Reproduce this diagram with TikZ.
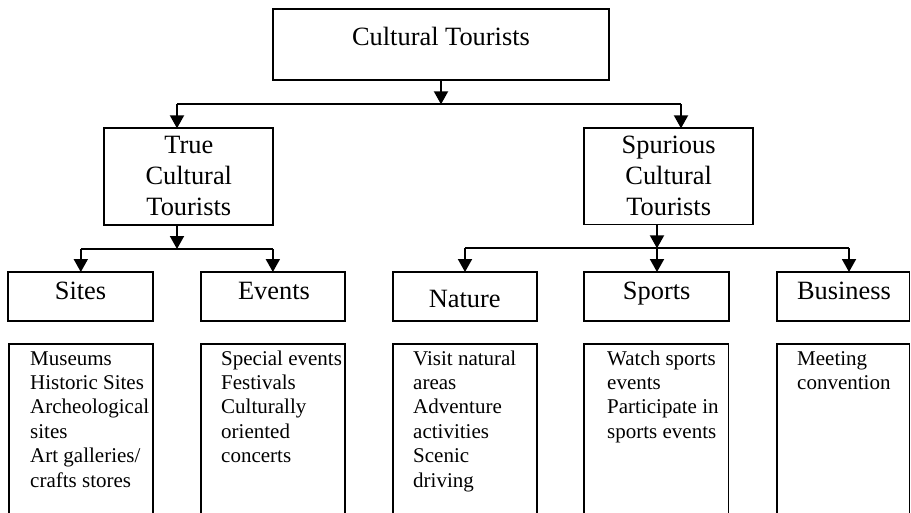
\documentclass[tikz,border=0pt]{standalone}
\usepackage{fontspec}
\setmainfont{Liberation Serif}
\usetikzlibrary{arrows.meta}
\begin{document}
\begin{tikzpicture}[x=1pt,y=-1pt,
  box/.style={draw,line width=1.9pt,inner sep=0pt,outer sep=0pt},
  head/.style={inner sep=0pt,font=\fontsize{26.4}{31}\selectfont},
  headml/.style={inner sep=0pt,align=center,anchor=north,font=\fontsize{26.4}{31}\selectfont},
  list/.style={inner sep=0pt,align=left,anchor=north west,font=\fontsize{21}{24.4}\selectfont},
  link/.style={line width=1.9pt},
  arr/.style={line width=1.9pt,-{Triangle[width=14pt,length=13pt]}}]
\useasboundingbox (0,0) rectangle (911,512);

% boxes
\node[box,minimum width=336.6pt,minimum height=71.3pt] (top) at (441,44.65) {};
\node[box,minimum width=169pt,minimum height=96.7pt] (true) at (188.8,176.65) {};
\node[box,minimum width=169.3pt,minimum height=96.2pt] (spur) at (668.65,176.4) {};
\node[box,minimum width=145pt,minimum height=49pt] (sites) at (80.8,296.5) {};
\node[box,minimum width=144.3pt,minimum height=49pt] (events) at (272.85,296.5) {};
\node[box,minimum width=143.4pt,minimum height=49pt] (nature) at (465,296.5) {};
\node[box,minimum width=144.4pt,minimum height=49pt] (sports) at (656.5,296.5) {};
\node[box,minimum width=132.8pt,minimum height=49pt] (business) at (843.1,296.5) {};
\node[box,minimum width=143.7pt,minimum height=170pt] (sitesL) at (80.85,429) {};
\node[box,minimum width=144pt,minimum height=170pt] (eventsL) at (273,429) {};
\node[box,minimum width=143.4pt,minimum height=170pt] (natureL) at (465,429) {};
\node[box,minimum width=144.2pt,minimum height=170pt] (sportsL) at (656.4,429) {};
\node[box,minimum width=132.8pt,minimum height=170pt] (businessL) at (843.1,429) {};

% texts
\node[head,anchor=base] (topT) at (441,45) {Cultural Tourists};
\node[headml] (trueT) at (188.8,131.6) {\strut True\\Cultural\\Tourists};
\node[headml] (spurT) at (668.65,131.6) {\strut Spurious\\Cultural\\Tourists};
\node[head,anchor=base] (sitesT) at (80.5,299.3) {Sites};
\node[head,anchor=base] (eventsT) at (274,299.3) {Events};
\node[head,anchor=base] (natureT) at (464.7,307.7) {Nature};
\node[head,anchor=base] (sportsT) at (656.7,299.3) {Sports};
\node[head,anchor=base] (businessT) at (844,299.3) {Business};

\node[list] (sitesLT) at (30,347.9) {\strut Museums\\Historic Sites\\Archeological\\sites\\Art galleries/\\crafts stores};
\node[list] (eventsLT) at (221,347.9) {\strut Special events\\Festivals\\Culturally\\oriented\\concerts};
\node[list] (natureLT) at (413,347.9) {\strut Visit natural\\areas\\Adventure\\activities\\Scenic\\driving};
\node[list] (sportsLT) at (607,347.9) {\strut Watch sports\\events\\Participate in\\sports events};
\node[list] (businessLT) at (797,347.9) {\strut Meeting\\convention};

% junctions
\coordinate (j1) at (441,104.3);
\coordinate (j1l) at (177,104.3);
\coordinate (j1r) at (681,104.3);
\coordinate (j2) at (177,249);
\coordinate (j2l) at (80.8,249);
\coordinate (j2r) at (272.85,249);
\coordinate (j3) at (657,248.3);
\coordinate (j3l) at (465,248.3);
\coordinate (j3r) at (849,248.3);

% connectors
\draw[arr] (top.south) -- (j1);
\draw[link] (j1l) -- (j1r);
\draw[arr] (j1l) -- (j1l |- true.north);
\draw[arr] (j1r) -- (j1r |- spur.north);

\draw[arr] (true.south -| j2) -- (j2);
\draw[link] (j2l) -- (j2r);
\draw[arr] (j2l) -- (sites.north);
\draw[arr] (j2r) -- (events.north);

\draw[arr] (spur.south -| j3) -- (j3);
\draw[link] (j3l) -- (j3r);
\draw[arr] (j3l) -- (nature.north);
\draw[arr] (j3) -- (j3 |- sports.north);
\draw[arr] (j3r) -- (j3r |- business.north);
\end{tikzpicture}
\end{document}
